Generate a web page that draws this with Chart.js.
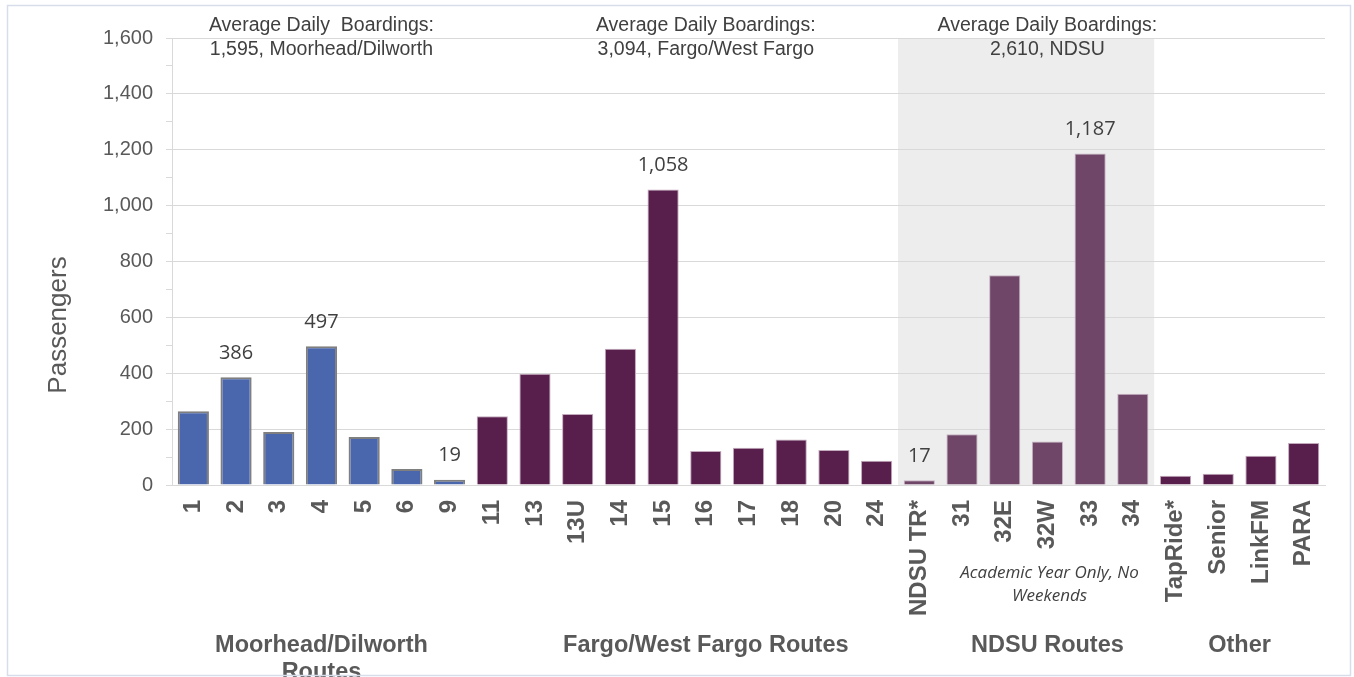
<!DOCTYPE html>
<html>
<head>
<meta charset="utf-8">
<script src="https://cdn.jsdelivr.net/npm/chart.js@4.4.1/dist/chart.umd.min.js"></script>
<style>
  html, body { margin: 0; padding: 0; background: #fff; }
  #wrap { width: 1354px; height: 677px; position: relative; }
</style>
</head>
<body>
<div id="wrap"><canvas id="ridership"></canvas></div>
<script>
// ── Route data (average daily passengers) ──────
const moorheadRoutes = ['1', '2', '3', '4', '5', '6', '9'];
const moorheadRiders = [264, 386, 190, 497, 172, 57, 19];

const fargoRoutes = ['11', '13', '13U', '14', '15', '16', '17', '18', '20', '24'];
const fargoRiders = [246, 398, 254, 488, 1058, 122, 133, 163, 125, 87];

const ndsuRoutes = ['NDSU TR*', '31', '32E', '32W', '33', '34'];
const ndsuRiders = [17, 182, 751, 156, 1187, 327];

const otherRoutes = ['TapRide*', 'Senior', 'LinkFM', 'PARA'];
const otherRiders = [33, 40, 105, 150];

// routes that get a value label above the bar
const labeledRoutes = ['2', '4', '9', '15', 'NDSU TR*', '33'];

const groupTitles = [
  ['Moorhead/Dilworth', 'Routes'],
  ['Fargo/West Fargo Routes'],
  ['NDSU Routes'],
  ['Other']
];
const boardingNotes = [
  ['Average Daily  Boardings:', '1,595, Moorhead/Dilworth'],
  ['Average Daily Boardings:', '3,094, Fargo/West Fargo'],
  ['Average Daily Boardings:', '2,610, NDSU']
];
const ndsuNote = ['Academic Year Only, No', 'Weekends'];
const yTitle = 'Passengers';

// ── Colours ─────────────────────────────────────
const BLUE   = '#4a66ac';
const PLUM   = '#581f4d';
const MAUVE  = '#704668';
const SHADE  = '#ededed';
const GRID   = '#d9d9d9';
const AXIS_T = '#595959';
const NOTE_T = '#404040';
const FONT   = 'Arial, "Liberation Sans", sans-serif';

const routes = [...moorheadRoutes, ...fargoRoutes, ...ndsuRoutes, ...otherRoutes];
const riders = [...moorheadRiders, ...fargoRiders, ...ndsuRiders, ...otherRiders];

const fills = [
  ...moorheadRoutes.map(() => BLUE),
  ...fargoRoutes.map(() => PLUM),
  ...ndsuRoutes.map(() => MAUVE),
  ...otherRoutes.map(() => PLUM)
];
const edges = [
  ...moorheadRoutes.map(() => '#7f7f7f'),
  ...fargoRoutes.map(() => '#c2a9bc'),
  ...ndsuRoutes.map(() => '#c7b3c3'),
  ...otherRoutes.map(() => '#c2a9bc')
];
const edgeWidths = routes.map((r, i) => i < moorheadRoutes.length ? 2 : 1);

// ── Overlay: shading, notes, group titles ─────────
const overlay = {
  id: 'overlay',
  beforeDraw(chart) {
    const { ctx, chartArea: a, scales: { x } } = chart;
    const first = routes.indexOf(ndsuRoutes[0]);
    const last  = first + ndsuRoutes.length - 1;
    const l = x.getPixelForValue(first - 0.5);
    const r = x.getPixelForValue(last + 0.5);
    ctx.save();
    ctx.fillStyle = SHADE;
    ctx.fillRect(l, a.top, r - l, a.bottom - a.top);
    ctx.restore();
  },
  afterDraw(chart) {
    const { ctx, scales: { x } } = chart;
    const meta = chart.getDatasetMeta(0);
    ctx.save();
    ctx.textAlign = 'center';
    ctx.textBaseline = 'middle';

    // boardings notes above the plot
    const noteAt = [3, 12, 20];
    ctx.fillStyle = NOTE_T;
    ctx.font = `19.5px ${FONT}`;
    boardingNotes.forEach((lines, i) => {
      const cx = x.getPixelForValue(noteAt[i]);
      lines.forEach((t, j) => ctx.fillText(t, cx, 26 + j * 24));
    });

    // value labels
    ctx.font = '20px "Open Sans", sans-serif';
    labeledRoutes.forEach(rt => {
      const i = routes.indexOf(rt);
      const bar = meta.data[i];
      ctx.fillText(riders[i].toLocaleString('en-US'), bar.x, bar.y - 24);
    });

    // group titles under the axis
    const groupAt = [3, 12, 20, 24.5];
    ctx.fillStyle = AXIS_T;
    ctx.font = `bold 23.5px ${FONT}`;
    groupTitles.forEach((lines, i) => {
      const cx = x.getPixelForValue(groupAt[i]);
      lines.forEach((t, j) => ctx.fillText(t, cx, 646 + j * 27));
    });

    // NDSU note
    ctx.fillStyle = NOTE_T;
    ctx.font = 'italic 17px "Open Sans", sans-serif';
    const nx = x.getPixelForValue(20.05);
    ndsuNote.forEach((t, j) => ctx.fillText(t, nx, 573 + j * 23));

    // y axis title
    ctx.fillStyle = AXIS_T;
    ctx.font = `26px ${FONT}`;
    ctx.translate(59, 325);
    ctx.rotate(-Math.PI / 2);
    ctx.fillText(yTitle, 0, 0);
    ctx.restore();

    // frame
    ctx.save();
    ctx.strokeStyle = '#d8ddeb';
    ctx.lineWidth = 1.5;
    ctx.strokeRect(7.5, 5.5, 1343, 670);
    ctx.restore();
  }
};

new Chart(document.getElementById('ridership'), {
  type: 'bar',
  data: {
    labels: routes,
    datasets: [{
      data: riders,
      backgroundColor: fills,
      borderColor: edges,
      borderWidth: edgeWidths,
      categoryPercentage: 1,
      barPercentage: 0.73
    }]
  },
  options: {
    responsive: true,
    maintainAspectRatio: false,
    animation: false,
    devicePixelRatio: 1,
    layout: { padding: { top: 38, right: 29, bottom: 0, left: 0 } },
    plugins: {
      legend:  { display: false },
      tooltip: { enabled: false }
    },
    scales: {
      x: {
        afterFit: s => { s.height = 192; },
        grid:   { display: false, drawTicks: false },
        border: { display: true, color: GRID, width: 1 },
        ticks: {
          color: AXIS_T,
          font: { family: FONT, size: 24, weight: 'bold' },
          minRotation: 90,
          maxRotation: 90,
          autoSkip: false,
          padding: 15
        }
      },
      y: {
        min: 0,
        max: 1600,
        afterFit: s => { s.width = 172; },
        grid: {
          color: c => (c.tick && c.tick.value % 200 === 0) ? GRID : 'rgba(0,0,0,0)',
          tickColor: GRID,
          tickLength: 6
        },
        border: { display: true, color: GRID, width: 1 },
        ticks: {
          stepSize: 100,
          color: AXIS_T,
          font: { family: FONT, size: 20 },
          padding: 13,
          callback: v => v % 200 === 0 ? v.toLocaleString('en-US') : ''
        }
      }
    }
  },
  plugins: [overlay]
});
</script>
</body>
</html>
